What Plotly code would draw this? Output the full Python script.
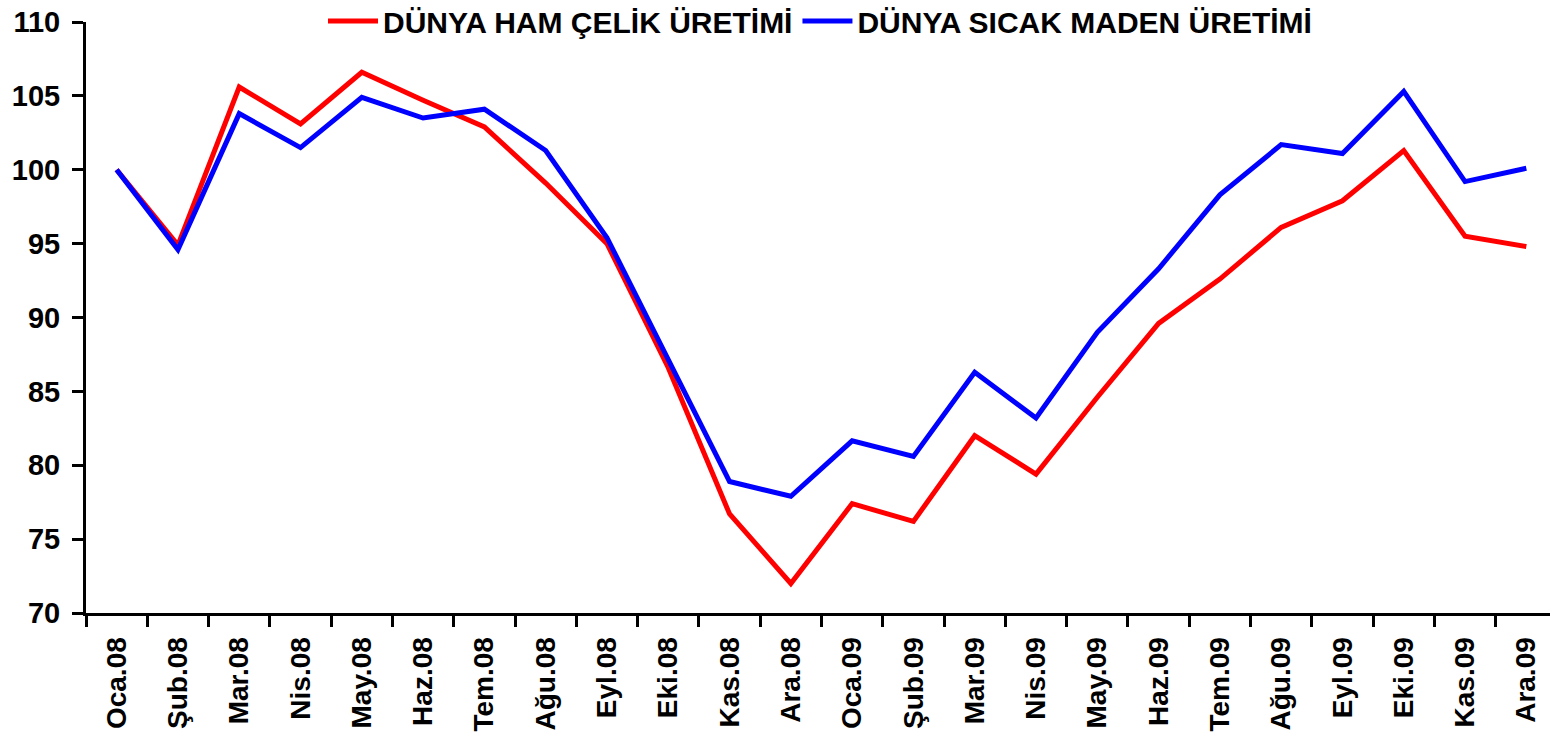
import plotly.graph_objects as go

months = ["Oca.08", "Şub.08", "Mar.08", "Nis.08", "May.08", "Haz.08", "Tem.08", "Ağu.08",
          "Eyl.08", "Eki.08", "Kas.08", "Ara.08", "Oca.09", "Şub.09", "Mar.09", "Nis.09",
          "May.09", "Haz.09", "Tem.09", "Ağu.09", "Eyl.09", "Eki.09", "Kas.09", "Ara.09"]

ham_celik = [100.0, 94.9, 105.6, 103.1, 106.6, 104.7, 102.9, 99.1,
             95.0, 86.6, 76.7, 72.0, 77.4, 76.2, 82.0, 79.4,
             84.6, 89.6, 92.6, 96.1, 97.9, 101.3, 95.5, 94.8]

sicak_maden = [100.0, 94.6, 103.8, 101.5, 104.9, 103.5, 104.1, 101.3,
               95.4, 87.2, 78.9, 77.9, 81.65, 80.6, 86.3, 83.2,
               89.0, 93.3, 98.3, 101.7, 101.1, 105.3, 99.2, 100.1]

series_names = ["DÜNYA HAM ÇELİK ÜRETİMİ", "DÜNYA SICAK MADEN ÜRETİMİ"]
y_ticks = [70, 75, 80, 85, 90, 95, 100, 105, 110]

FONT = "Liberation Sans, Arial, sans-serif"

fig = go.Figure()
fig.add_trace(go.Scatter(x=months, y=ham_celik, mode="lines", name=series_names[0],
                         line=dict(color="#FF0000", width=5)))
fig.add_trace(go.Scatter(x=months, y=sicak_maden, mode="lines", name=series_names[1],
                         line=dict(color="#0000FF", width=5)))

fig.update_layout(
    width=1550, height=741,
    margin=dict(l=86, r=0, t=22, b=128, autoexpand=False),
    paper_bgcolor="white", plot_bgcolor="white",
    font=dict(family=FONT, color="black"),
    showlegend=True,
    legend=dict(orientation="h", x=(323 - 86) / 1464, xanchor="left", y=1.0017, yanchor="middle",
                font=dict(family=FONT, size=30, weight="bold", color="black"),
                bgcolor="rgba(0,0,0,0)", borderwidth=0, itemwidth=50,
                tracegroupgap=0),
    xaxis=dict(type="category", categoryorder="array", categoryarray=months,
               range=[-0.5, 23.386], tickson="boundaries",
               ticks="outside", ticklen=11, tickwidth=3, tickcolor="black",
               showline=True, linewidth=3, linecolor="black",
               tickangle=-90, ticklabelstandoff=10, ticklabeloverflow="allow",
               tickfont=dict(family=FONT, size=28, weight="bold", color="black"),
               showgrid=False, zeroline=False, automargin=False),
    yaxis=dict(range=[70, 110], tickvals=y_ticks, ticktext=[str(v) for v in y_ticks],
               ticks="outside", ticklen=11, tickwidth=3, tickcolor="black",
               showline=True, linewidth=3, linecolor="black",
               ticklabelstandoff=6, ticklabeloverflow="allow",
               tickfont=dict(family=FONT, size=29, weight="bold", color="black"),
               showgrid=False, zeroline=False, automargin=False),
)

fig.write_html("out.html",
               config={"displayModeBar": False},
               post_script="document.body.style.margin='0';document.body.style.overflow='hidden';")
